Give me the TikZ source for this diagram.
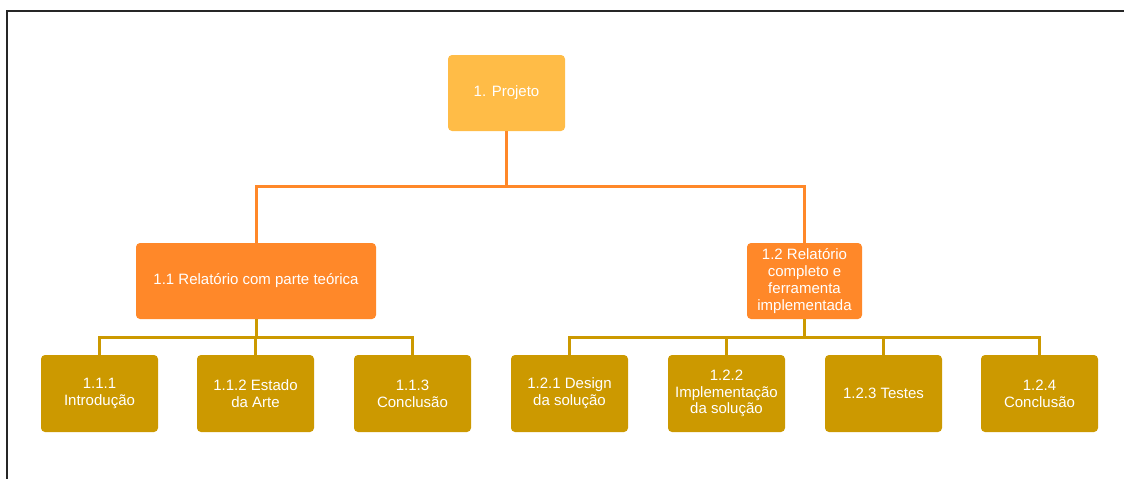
\documentclass[tikz,border=0pt]{standalone}
\usepackage{fontspec}
\setmainfont{Liberation Sans}
\definecolor{projeto}{HTML}{FFBC47}
\definecolor{relatorio}{HTML}{FF8829}
\definecolor{tarefa}{HTML}{CC9900}

\begin{document}
\begin{tikzpicture}[x=1pt,y=-1pt,
    caixa/.style={rounded corners=4pt, text=white, align=center, inner sep=0pt,
        font=\fontsize{15}{16.8}\selectfont},
    topo/.style={caixa, fill=projeto, minimum width=117pt, minimum height=76pt},
    entrega/.style={caixa, fill=relatorio, minimum height=76pt},
    pacote/.style={caixa, fill=tarefa, minimum width=117pt, minimum height=77pt},
    ramo/.style={line width=3pt, draw=relatorio},
    subramo/.style={line width=3pt, draw=tarefa}]

    \useasboundingbox (0,0) rectangle (1124,479);
    \draw[line width=2pt, black!85] (7,479) -- (7,11) -- (1124,11);

    \node[topo] (proj) at (506.5,93) {1. Projeto};

    \node[entrega, minimum width=240pt] (rel1) at (256,281) {1.1 Relatório com parte teórica};
    \node[entrega, minimum width=115pt] (rel2) at (804.5,281) {1.2 Relatório\\completo e\\ferramenta\\implementada};

    \node[pacote] (t111) at (99.5,393.5) {1.1.1\\Introdução};
    \node[pacote] (t112) at (255.5,393.5) {1.1.2 Estado\\da Arte};
    \node[pacote] (t113) at (412.5,393.5) {1.1.3\\Conclusão};

    \node[pacote] (t121) at (569.5,393.5) {1.2.1 Design\\da solução};
    \node[pacote] (t122) at (726.5,393.5) {1.2.2\\Implementação\\da solução};
    \node[pacote] (t123) at (883.5,393.5) {1.2.3 Testes};
    \node[pacote] (t124) at (1039.5,393.5) {1.2.4\\Conclusão};

    \coordinate (j0) at (506.5,186);
    \coordinate (j1) at (256,337);
    \coordinate (j2) at (804.5,337);

    \draw[ramo] (proj.south) -- (j0);
    \draw[ramo] (rel1.north) |- (j0) -| (rel2.north);

    \draw[subramo] (rel1.south) -- (j1);
    \draw[subramo] (t111.north) |- (j1) -| (t113.north);
    \draw[subramo] (t112.north) -- (t112.north |- j1);

    \draw[subramo] (rel2.south) -- (j2);
    \draw[subramo] (t121.north) |- (j2) -| (t124.north);
    \draw[subramo] (t122.north) -- (t122.north |- j2);
    \draw[subramo] (t123.north) -- (t123.north |- j2);
\end{tikzpicture}
\end{document}
